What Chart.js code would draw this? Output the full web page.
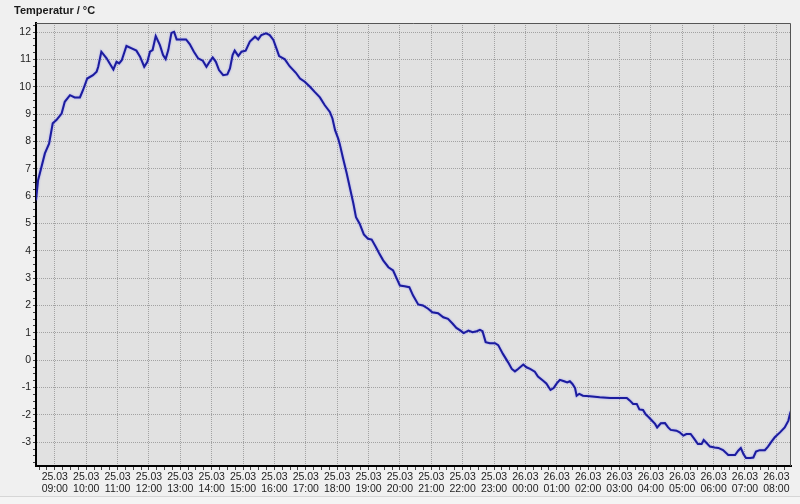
<!DOCTYPE html>
<html>
<head>
<meta charset="utf-8">
<script src="https://cdn.jsdelivr.net/npm/chart.js@4.4.1/dist/chart.umd.min.js"></script>
<style>
  html, body { margin: 0; padding: 0; background: #f0f0f0; }
  canvas { display: block; }
</style>
</head>
<body>
<canvas id="tempChart" width="800" height="504"></canvas>
<script>
"use strict";

// minutes since 25.03 00:00
const minutes = [
  504, 508, 521, 529, 536, 543, 553, 559, 569, 578, 588, 594, 602, 613, 620, 623,
  629, 639, 645, 652, 658, 663, 668, 677, 687, 696, 703, 711, 717, 722, 727, 733,
  741, 747, 752, 757, 763, 768, 773, 782, 791, 798, 806, 814, 823, 830, 836, 842,
  848, 854, 862, 870, 875, 880, 884, 891, 897, 905, 913, 923, 929, 935, 944, 951,
  958, 965, 969, 980, 989, 1001, 1009, 1018, 1028, 1037, 1047, 1056, 1066, 1071,
  1076, 1082, 1085, 1091, 1098, 1104, 1111, 1116, 1123, 1131, 1139, 1146, 1154,
  1160, 1168, 1178, 1187, 1194, 1200, 1209, 1218, 1225, 1235, 1244, 1254, 1262,
  1273, 1283, 1292, 1301, 1308, 1316, 1322, 1331, 1339, 1347, 1353, 1358, 1364,
  1372, 1382, 1388, 1397, 1407, 1414, 1420, 1426, 1436, 1442, 1449, 1458, 1464,
  1474, 1480, 1488, 1494, 1500, 1506, 1514, 1520, 1525, 1530, 1535, 1538, 1543,
  1550, 1563, 1582, 1602, 1621, 1634, 1640, 1646, 1653, 1658, 1665, 1670, 1675,
  1681, 1688, 1692, 1699, 1707, 1713, 1718, 1729, 1735, 1742, 1748, 1756, 1762,
  1770, 1777, 1781, 1787, 1793, 1802, 1809, 1818, 1828, 1841, 1847, 1852, 1857,
  1862, 1870, 1876, 1881, 1888, 1898, 1904, 1911, 1917, 1927, 1936, 1943, 1946, 1948
];
const temps = [
  5.85, 6.58, 7.56, 7.92, 8.66, 8.78, 9.02, 9.45, 9.69, 9.61, 9.61, 9.88, 10.30, 10.42, 10.55, 10.73,
  11.28, 11.04, 10.85, 10.63, 10.91, 10.85, 10.97, 11.49, 11.40, 11.32, 11.10, 10.73, 10.91, 11.28, 11.34, 11.85,
  11.52, 11.16, 11.01, 11.34, 11.97, 12.01, 11.73, 11.73, 11.73, 11.56, 11.28, 11.04, 10.95, 10.73, 10.91, 11.07,
  10.91, 10.61, 10.42, 10.45, 10.67, 11.16, 11.32, 11.12, 11.28, 11.32, 11.65, 11.83, 11.73, 11.89, 11.95, 11.89,
  11.71, 11.34, 11.12, 11.00, 10.75, 10.51, 10.30, 10.18, 10.00, 9.81, 9.61, 9.33, 9.08, 8.84,
  8.41, 8.10, 7.90, 7.40, 6.85, 6.33, 5.73, 5.23, 4.99, 4.60, 4.44, 4.41, 4.14,
  3.92, 3.65, 3.40, 3.28, 2.98, 2.73, 2.70, 2.67, 2.37, 2.04, 2.00, 1.88, 1.75,
  1.72, 1.57, 1.51, 1.33, 1.18, 1.08, 0.99, 1.08, 1.02, 1.06, 1.11, 1.06, 0.66,
  0.62, 0.62, 0.55, 0.23, -0.08, -0.32, -0.41, -0.32, -0.16, -0.26, -0.32, -0.42, -0.60,
  -0.75, -0.85, -1.09, -1.02, -0.85, -0.72, -0.77, -0.81, -0.77, -0.87, -1.02, -1.30, -1.23,
  -1.30, -1.32, -1.36, -1.38, -1.38, -1.38, -1.48, -1.60, -1.60, -1.80, -1.82, -1.98, -2.07,
  -2.19, -2.33, -2.46, -2.31, -2.30, -2.46, -2.55, -2.58, -2.64, -2.76, -2.70, -2.70, -2.85,
  -3.07, -3.07, -2.92, -3.04, -3.16, -3.19, -3.21, -3.29, -3.47, -3.47, -3.31, -3.21, -3.43,
  -3.58, -3.58, -3.56, -3.34, -3.29, -3.29, -3.16, -2.97, -2.82, -2.64, -2.46, -2.21, -1.97, -1.85
];

const hourTicks = [
  540, 600, 660, 720, 780, 840, 900, 960, 1020, 1080, 1140, 1200,
  1260, 1320, 1380, 1440, 1500, 1560, 1620, 1680, 1740, 1800, 1860, 1920
];
const dayLabels = [
  "25.03", "25.03", "25.03", "25.03", "25.03", "25.03", "25.03", "25.03", "25.03", "25.03", "25.03", "25.03",
  "25.03", "25.03", "25.03", "26.03", "26.03", "26.03", "26.03", "26.03", "26.03", "26.03", "26.03", "26.03"
];
const hourLabels = [
  "09:00", "10:00", "11:00", "12:00", "13:00", "14:00", "15:00", "16:00", "17:00", "18:00", "19:00", "20:00",
  "21:00", "22:00", "23:00", "00:00", "01:00", "02:00", "03:00", "04:00", "05:00", "06:00", "07:00", "08:00"
];
const yTicks = [-3, -2, -1, 0, 1, 2, 3, 4, 5, 6, 7, 8, 9, 10, 11, 12];
const chartTitle = "Temperatur / °C";

const X_MIN = 504;
const X_MAX = 1948;
const Y_MIN = -3.87;
const Y_MAX = 12.33;
const FONT = "'Liberation Sans', Arial, sans-serif";

// minor ticks: every 15 min on x, every 0.25 on y
function xTickList() {
  let list = [];
  for (let m = 510; m <= X_MAX; m += 15) list.push(m);
  return list;
}
function yTickList() {
  let list = [];
  for (let v = -3.75; v <= Y_MAX; v += 0.25) list.push(Math.round(v * 100) / 100);
  return list;
}
function isHour(v) {
  return hourTicks.indexOf(v) !== -1;
}
function isWhole(v) {
  return yTicks.indexOf(v) !== -1;
}

const framePlugin = {
  id: "frame",
  beforeDraw(chart) {
    const { ctx, chartArea: a } = chart;
    ctx.save();
    ctx.fillStyle = "#f0f0f0";
    ctx.fillRect(0, 0, chart.width, chart.height);
    // window strip at the very bottom
    ctx.fillStyle = "#f4f4f4";
    ctx.fillRect(0, 497, chart.width, chart.height - 497);
    ctx.strokeStyle = "#d6d6d6";
    ctx.beginPath();
    ctx.moveTo(0, 496.5);
    ctx.lineTo(chart.width, 496.5);
    ctx.stroke();
    ctx.fillStyle = "#e1e1e1";
    ctx.fillRect(a.left, a.top, a.right - a.left, a.bottom - a.top);
    ctx.restore();
  },
  beforeDatasetsDraw(chart) {
    // soft halo round the line, like the original
    chart.ctx.save();
    chart.ctx.shadowColor = "rgba(90, 90, 255, 0.55)";
    chart.ctx.shadowBlur = 2;
  },
  afterDatasetsDraw(chart) {
    chart.ctx.restore();
  },
  afterDraw(chart) {
    const { ctx, chartArea: a } = chart;
    ctx.save();
    ctx.strokeStyle = "#555555";
    ctx.lineWidth = 1;
    ctx.beginPath();
    ctx.moveTo(a.left, a.top + 0.5);
    ctx.lineTo(a.right - 0.5, a.top + 0.5);
    ctx.lineTo(a.right - 0.5, a.bottom);
    ctx.stroke();
    ctx.fillStyle = "#1a1a1a";
    ctx.font = "bold 11px " + FONT;
    ctx.textBaseline = "middle";
    ctx.fillText(chartTitle, 14, 11);
    ctx.restore();
  },
};

const ctx = document.getElementById("tempChart").getContext("2d");
const tempChart = new Chart(ctx, {
  type: "line",
  data: {
    datasets: [
      {
        label: chartTitle,
        data: minutes.map((m, i) => ({ x: m, y: temps[i] })),
        borderColor: "#1c1c9e",
        borderWidth: 2,
        pointRadius: 0,
        tension: 0,
        fill: false,
      },
    ],
  },
  options: {
    responsive: false,
    animation: false,
    layout: { padding: { top: 23, right: 9, left: 0, bottom: 0 } },
    plugins: {
      legend: { display: false },
      tooltip: { enabled: false },
    },
    scales: {
      x: {
        type: "linear",
        min: X_MIN,
        max: X_MAX,
        afterBuildTicks: (scale) => {
          scale.ticks = xTickList().map((v) => ({ value: v }));
        },
        afterFit: (scale) => {
          scale.height = 38;
        },
        ticks: {
          autoSkip: false,
          maxRotation: 0,
          minRotation: 0,
          padding: 1,
          color: "#222222",
          font: { family: FONT, size: 10.5, lineHeight: 1.15 },
          callback: (value) => {
            let k = hourTicks.indexOf(value);
            return k === -1 ? "" : [dayLabels[k], hourLabels[k]];
          },
        },
        grid: {
          color: (c) => (c.tick && isHour(c.tick.value) ? "#a2a2a2" : "rgba(0,0,0,0)"),
          tickColor: "#444444",
          tickLength: 4,
          lineWidth: 1,
        },
        border: { color: "#000000", width: 2, dash: [1, 1] },
      },
      y: {
        min: Y_MIN,
        max: Y_MAX,
        afterBuildTicks: (scale) => {
          scale.ticks = yTickList().map((v) => ({ value: v }));
        },
        afterFit: (scale) => {
          scale.width = 36;
        },
        ticks: {
          autoSkip: false,
          padding: 2,
          color: "#222222",
          font: { family: FONT, size: 10.5 },
          callback: (value) => (isWhole(value) ? String(value) : ""),
        },
        grid: {
          color: (c) => (c.tick && isWhole(c.tick.value) ? "#a2a2a2" : "rgba(0,0,0,0)"),
          tickColor: "#444444",
          tickLength: 3,
          lineWidth: 1,
        },
        border: { color: "#000000", width: 2, dash: [1, 1] },
      },
    },
  },
  plugins: [framePlugin],
});
</script>
</body>
</html>
